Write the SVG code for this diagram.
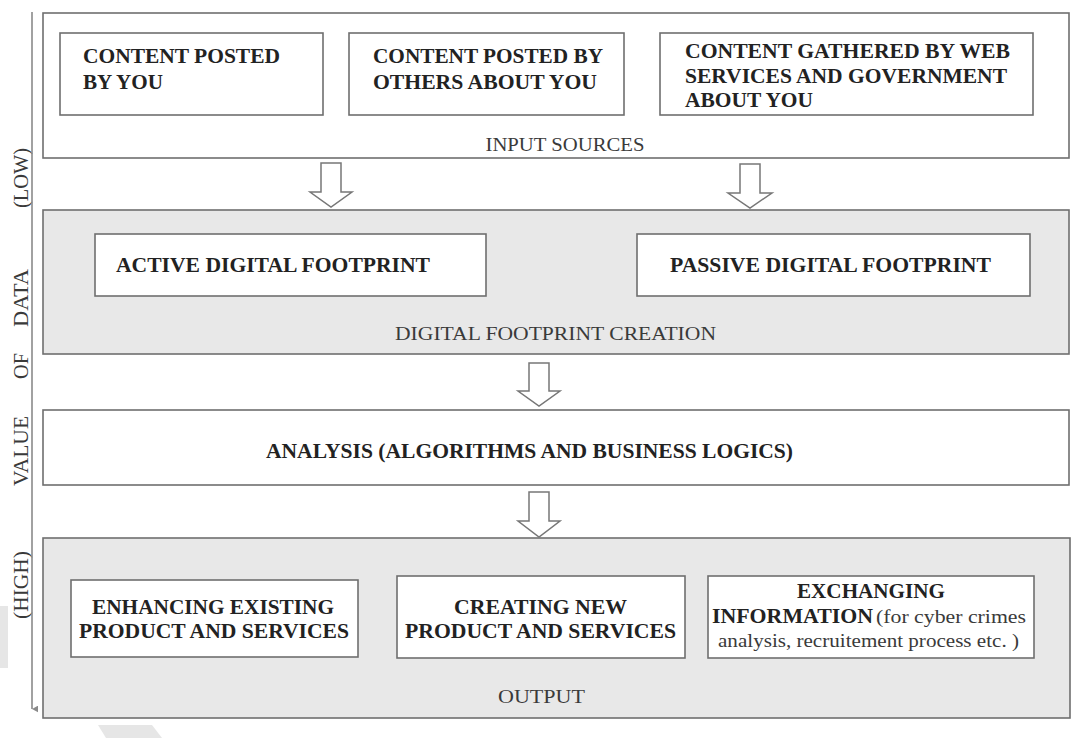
<svg xmlns="http://www.w3.org/2000/svg" width="1072" height="738" viewBox="0 0 1072 738">
<defs>
<style>
.bg{fill:#ffffff}
.panel{stroke:#6f6f6f;stroke-width:1.6}
.white{fill:#ffffff}
.gray{fill:#e8e8e8}
.box{fill:#ffffff;stroke:#6f6f6f;stroke-width:1.6}
.b{font-family:"Liberation Serif","Times New Roman",serif;font-weight:bold;font-size:20px;fill:#222222}
.r{font-family:"Liberation Serif","Times New Roman",serif;font-weight:normal;font-size:19.5px;fill:#3a3a3a}
.ax{font-family:"Liberation Serif","Times New Roman",serif;font-size:20px;fill:#3a3a3a}
.arrow{fill:#ffffff;stroke:#777777;stroke-width:1.5;stroke-linejoin:miter}
.axis{stroke:#8a8a8a;stroke-width:1.6;fill:none}
.wm{fill:#e6e6e6}
</style>
<marker id="axhead" viewBox="0 0 10 10" refX="5" refY="9" markerWidth="7" markerHeight="7" orient="auto-start-reverse" markerUnits="userSpaceOnUse">
<path d="M0,0 L10,0 L5,9 Z" fill="#8a8a8a"/>
</marker>
</defs>
<rect class="bg" x="0" y="0" width="1072" height="738"/>
<polygon class="wm" points="0,606 8,606 8,668 0,668"/>
<polygon class="wm" points="98,725 152,725 162,738 106,738"/>

<g id="input-sources">
<rect class="panel white" x="43" y="13" width="1026" height="145"/>
<text class="r" x="565" y="151" text-anchor="middle" textLength="159" lengthAdjust="spacingAndGlyphs">INPUT SOURCES</text>
</g>
<g id="content-posted-by-you">
<rect class="box" x="60" y="33" width="263" height="82"/>
<text class="b" x="83" y="63" textLength="197" lengthAdjust="spacingAndGlyphs">CONTENT POSTED</text>
<text class="b" x="83" y="89" textLength="80" lengthAdjust="spacingAndGlyphs">BY YOU</text>
</g>
<g id="content-posted-by-others">
<rect class="box" x="349" y="33" width="275" height="82"/>
<text class="b" x="373" y="63" textLength="230" lengthAdjust="spacingAndGlyphs">CONTENT POSTED BY</text>
<text class="b" x="373" y="89" textLength="224" lengthAdjust="spacingAndGlyphs">OTHERS ABOUT YOU</text>
</g>
<g id="content-gathered">
<rect class="box" x="660" y="33" width="373" height="82"/>
<text class="b" x="685" y="58" textLength="325" lengthAdjust="spacingAndGlyphs">CONTENT GATHERED BY WEB</text>
<text class="b" x="685" y="83" textLength="322" lengthAdjust="spacingAndGlyphs">SERVICES AND GOVERNMENT</text>
<text class="b" x="685" y="107" textLength="128" lengthAdjust="spacingAndGlyphs">ABOUT YOU</text>
</g>

<g id="digital-footprint-creation">
<rect class="panel gray" x="43" y="210" width="1026" height="144"/>
<text class="r" x="395" y="340" textLength="321" lengthAdjust="spacingAndGlyphs">DIGITAL FOOTPRINT CREATION</text>
</g>
<g id="active-footprint">
<rect class="box" x="95" y="234" width="391" height="62"/>
<text class="b" x="116" y="272" textLength="314" lengthAdjust="spacingAndGlyphs">ACTIVE DIGITAL FOOTPRINT</text>
</g>
<g id="passive-footprint">
<rect class="box" x="637" y="234" width="393" height="62"/>
<text class="b" x="670" y="272" textLength="321" lengthAdjust="spacingAndGlyphs">PASSIVE DIGITAL FOOTPRINT</text>
</g>

<g id="analysis">
<rect class="panel white" x="43" y="410" width="1026" height="75"/>
<text class="b" x="266" y="458" textLength="527" lengthAdjust="spacingAndGlyphs">ANALYSIS (ALGORITHMS AND BUSINESS LOGICS)</text>
</g>

<g id="output">
<rect class="panel gray" x="43" y="538" width="1027" height="180"/>
<text class="r" x="498" y="703" textLength="87" lengthAdjust="spacingAndGlyphs">OUTPUT</text>
</g>
<g id="enhancing">
<rect class="box" x="71" y="580" width="287" height="77"/>
<text class="b" x="92" y="614" textLength="242" lengthAdjust="spacingAndGlyphs">ENHANCING EXISTING</text>
<text class="b" x="79" y="638" textLength="270" lengthAdjust="spacingAndGlyphs">PRODUCT AND SERVICES</text>
</g>
<g id="creating">
<rect class="box" x="397" y="576" width="288" height="82"/>
<text class="b" x="454" y="614" textLength="173" lengthAdjust="spacingAndGlyphs">CREATING NEW</text>
<text class="b" x="405" y="638" textLength="271" lengthAdjust="spacingAndGlyphs">PRODUCT AND SERVICES</text>
</g>
<g id="exchanging">
<rect class="box" x="708" y="576" width="326" height="82"/>
<text class="b" x="797" y="598" textLength="148" lengthAdjust="spacingAndGlyphs">EXCHANGING</text>
<text class="b" x="712" y="623" textLength="161" lengthAdjust="spacingAndGlyphs">INFORMATION</text>
<text class="r" x="876" y="623" textLength="150" lengthAdjust="spacingAndGlyphs">(for cyber crimes</text>
<text class="r" x="718" y="647" textLength="301" lengthAdjust="spacingAndGlyphs">analysis, recruitement process etc. )</text>
</g>

<g id="value-axis">
<text class="ax" transform="translate(28,178) rotate(-90)" text-anchor="middle" textLength="60" lengthAdjust="spacingAndGlyphs">(LOW)</text>
<text class="ax" transform="translate(28,298) rotate(-90)" text-anchor="middle" textLength="58" lengthAdjust="spacingAndGlyphs">DATA</text>
<text class="ax" transform="translate(28,366) rotate(-90)" text-anchor="middle" textLength="26" lengthAdjust="spacingAndGlyphs">OF</text>
<text class="ax" transform="translate(28,451) rotate(-90)" text-anchor="middle" textLength="70" lengthAdjust="spacingAndGlyphs">VALUE</text>
<text class="ax" transform="translate(28,585) rotate(-90)" text-anchor="middle" textLength="68" lengthAdjust="spacingAndGlyphs">(HIGH)</text>
</g>

<g id="connectors">
<line class="axis" x1="32" y1="12" x2="32" y2="709" marker-end="url(#axhead)"/>
<polygon class="arrow" points="321,163 341,163 341,192 352,192 331,207 310,192 321,192"/>
<polygon class="arrow" points="740,164 760,164 760,193 772,193 750,208 728,193 740,193"/>
<polygon class="arrow" points="529,363 549,363 549,391 560,391 539,406 518,391 529,391"/>
<polygon class="arrow" points="529,492 549,492 549,521 560,521 539,537 518,521 529,521"/>
</g>
</svg>
